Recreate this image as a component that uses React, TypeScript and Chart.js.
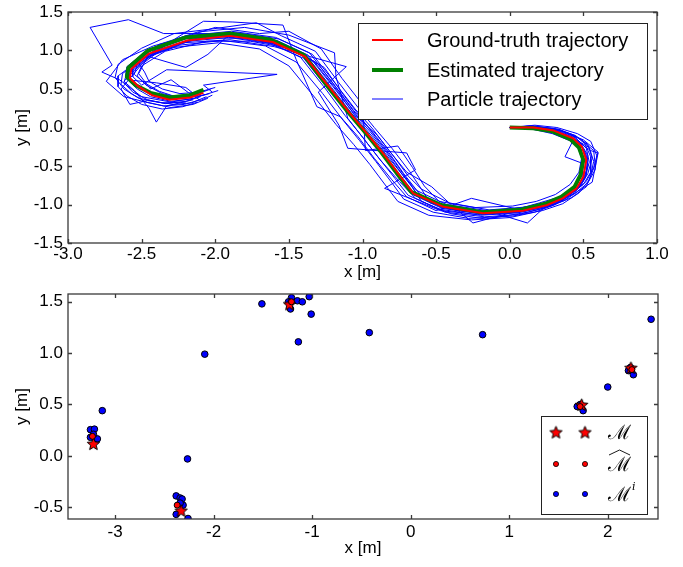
import React, { useEffect, useRef } from 'react';
import { Chart, registerables } from 'chart.js';
Chart.register(...registerables);

const FONT = "'Liberation Sans', Arial, Helvetica, sans-serif";

// ---------- Top chart: trajectories ----------
const topXTicks = [-3.0, -2.5, -2.0, -1.5, -1.0, -0.5, 0.0, 0.5, 1.0];
const topYTicks = [-1.5, -1.0, -0.5, 0.0, 0.5, 1.0, 1.5];

const gtX = [0.00, 0.16, 0.30, 0.43, 0.49, 0.52, 0.50, 0.455, 0.36, 0.25, 0.09, -0.18, -0.45, -0.655, -0.745, -0.86, -0.97, -1.085, -1.22, -1.39, -1.61, -1.90, -2.19, -2.45, -2.57, -2.58, -2.52, -2.43, -2.31, -2.17, -2.08];
const gtY = [0.00, 0.00, -0.04, -0.14, -0.25, -0.42, -0.64, -0.79, -0.92, -1.01, -1.08, -1.115, -1.03, -0.855, -0.63, -0.335, -0.075, 0.184, 0.51, 0.92, 1.11, 1.19, 1.13, 0.96, 0.76, 0.64, 0.53, 0.42, 0.36, 0.39, 0.45];

const estX = [0.00, 0.16, 0.29, 0.41, 0.47, 0.50, 0.48, 0.44, 0.35, 0.24, 0.08, -0.19, -0.46, -0.67, -0.76, -0.875, -0.985, -1.10, -1.235, -1.40, -1.62, -1.90, -2.20, -2.46, -2.59, -2.60, -2.54, -2.44, -2.31, -2.17, -2.08];
const estY = [0.00, -0.01, -0.05, -0.15, -0.26, -0.42, -0.62, -0.77, -0.90, -0.99, -1.065, -1.10, -1.01, -0.835, -0.61, -0.315, -0.055, 0.205, 0.53, 0.945, 1.14, 1.22, 1.17, 0.995, 0.775, 0.655, 0.55, 0.45, 0.39, 0.42, 0.49];

const particle1 = [[0.00, 0.00], [0.15, 0.01], [0.31, -0.03], [0.44, -0.12], [0.52, -0.27], [0.54, -0.45], [0.51, -0.66], [0.44, -0.82], [0.33, -0.95], [0.22, -1.04], [0.05, -1.11], [-0.20, -1.14], [-0.48, -1.06], [-0.69, -0.88], [-0.78, -0.66], [-0.90, -0.37], [-1.01, -0.10], [-1.12, 0.16], [-1.25, 0.50], [-1.42, 0.91], [-1.64, 1.12], [-1.93, 1.22], [-2.35, 1.22], [-2.59, 1.40], [-2.85, 1.30], [-2.70, 0.81], [-2.77, 0.72], [-2.65, 0.62], [-2.50, 0.40], [-2.30, 0.33], [-2.15, 0.38]];
const particle2 = [[0.00, 0.00], [0.17, -0.02], [0.32, -0.07], [0.46, -0.18], [0.55, -0.30], [0.60, -0.33], [0.56, -0.71], [0.47, -0.82], [0.37, -0.95], [0.24, -1.03], [0.12, -1.24], [-0.12, -1.10], [-0.42, -1.05], [-0.62, -0.88], [-0.73, -0.61], [-0.84, -0.32], [-0.95, -0.05], [-1.07, 0.21], [-1.20, 0.53], [-1.37, 0.94], [-1.58, 1.13], [-1.86, 1.21], [-2.16, 1.15], [-2.42, 0.99], [-2.56, 0.79], [-2.56, 0.66], [-2.50, 0.55], [-2.33, 0.75], [-1.58, 0.69], [-2.08, 0.55], [-2.02, 0.46]];
const particle3 = [[0.00, 0.00], [0.14, -0.01], [0.28, -0.06], [0.41, -0.16], [0.47, -0.28], [0.50, -0.44], [0.48, -0.63], [0.43, -0.78], [0.34, -0.90], [0.20, -0.98], [0.05, -1.06], [-0.26, -0.92], [-0.50, -1.08], [-0.70, -0.90], [-0.80, -0.68], [-0.92, -0.40], [-1.03, -0.12], [-1.15, 0.14], [-1.31, 0.27], [-1.45, 0.88], [-1.54, 1.33], [-1.88, 1.37], [-2.08, 1.38], [-2.40, 1.00], [-2.55, 0.74], [-2.62, 0.60], [-2.55, 0.48], [-2.45, 0.25], [-2.40, 0.07], [-2.33, 0.28], [-2.15, 0.36]];
const particle4 = [[0.00, 0.00], [0.18, 0.01], [0.33, -0.02], [0.45, -0.11], [0.53, -0.22], [0.56, -0.40], [0.53, -0.60], [0.48, -0.76], [0.39, -0.89], [0.28, -0.98], [0.12, -1.05], [-0.25, -1.24], [-0.40, -1.00], [-0.53, -0.77], [-0.70, -0.58], [-0.82, -0.30], [-0.93, -0.02], [-1.05, 0.24], [-1.18, 0.56], [-1.34, 0.95], [-1.57, 1.15], [-1.85, 1.23], [-2.14, 1.19], [-2.40, 1.02], [-2.53, 0.82], [-2.55, 0.69], [-2.48, 0.58], [-2.38, 0.47], [-2.27, 0.40], [-2.13, 0.43], [-2.03, 0.50]];
const particle5 = [[0.00, 0.00], [0.13, 0.00], [0.27, -0.05], [0.39, -0.13], [0.46, -0.24], [0.49, -0.41], [0.47, -0.66], [0.42, -0.81], [0.32, -0.93], [0.22, -1.03], [0.06, -1.10], [-0.22, -1.13], [-0.47, -1.08], [-0.85, -0.79], [-0.64, -0.55], [-0.70, -0.33], [-1.10, -0.27], [-1.16, 0.03], [-1.30, 0.46], [-1.11, 0.79], [-1.60, 1.05], [-1.90, 1.14], [-2.22, 1.10], [-2.47, 0.93], [-2.60, 0.72], [-2.62, 0.58], [-2.56, 0.46], [-2.46, 0.36], [-2.34, 0.31], [-2.20, 0.34], [-2.10, 0.40]];
const particle6 = [[0.00, 0.00], [0.16, 0.02], [0.31, -0.02], [0.44, -0.10], [0.51, -0.21], [0.55, -0.38], [0.55, -0.58], [0.50, -0.74], [0.41, -0.87], [0.30, -0.97], [0.14, -1.04], [-0.15, -1.08], [-0.43, -1.00], [-0.63, -0.82], [-0.72, -0.60], [-0.83, -0.30], [-0.94, -0.04], [-1.06, 0.22], [-1.19, 0.55], [-1.36, 0.97], [-1.59, 1.17], [-1.89, 1.25], [-2.20, 1.19], [-2.46, 1.01], [-2.60, 0.79], [-2.61, 0.66], [-2.55, 0.56], [-2.45, 0.45], [-2.32, 0.40], [-2.18, 0.42], [-2.08, 0.48]];
const particle7 = [[0.00, 0.00], [0.15, -0.02], [0.29, -0.08], [0.42, -0.18], [0.50, -0.31], [0.53, -0.49], [0.50, -0.70], [0.44, -0.85], [0.34, -0.97], [0.21, -1.06], [0.06, -1.13], [-0.17, -1.16], [-0.44, -1.10], [-0.64, -0.92], [-0.75, -0.70], [-0.88, -0.42], [-0.99, -0.15], [-1.10, 0.12], [-1.18, 0.66], [-1.19, 0.97], [-1.50, 1.20], [-1.80, 1.30], [-2.12, 1.24], [-2.38, 1.08], [-2.53, 0.86], [-2.48, 0.72], [-2.45, 0.60], [-2.36, 0.50], [-2.24, 0.44], [-2.11, 0.46], [-2.00, 0.52]];
const particle8 = [[0.00, 0.00], [0.17, 0.01], [0.34, -0.03], [0.48, -0.15], [0.57, -0.30], [0.58, -0.48], [0.54, -0.68], [0.47, -0.85], [0.36, -0.99], [0.22, -1.08], [0.02, -1.15], [-0.28, -1.18], [-0.52, -1.10], [-0.72, -0.93], [-0.80, -0.72], [-0.91, -0.44], [-1.02, -0.17], [-1.13, 0.09], [-1.27, 0.44], [-1.45, 0.85], [-1.66, 1.06], [-1.95, 1.13], [-2.24, 1.07], [-2.49, 0.90], [-2.63, 0.70], [-2.64, 0.56], [-2.57, 0.44], [-2.47, 0.33], [-2.35, 0.28], [-2.21, 0.30], [-2.10, 0.36]];
const particle9 = [[0.00, 0.00], [0.14, 0.02], [0.29, -0.03], [0.44, -0.13], [0.375, -0.38], [0.50, -0.47], [0.49, -0.67], [0.45, -0.80], [0.37, -0.93], [0.26, -1.02], [0.10, -1.09], [-0.17, -1.13], [-0.46, -1.05], [-0.66, -0.87], [-0.76, -0.64], [-0.86, -0.36], [-0.98, -0.08], [-1.09, 0.18], [-1.23, 0.49], [-1.40, 0.90], [-1.63, 1.09], [-1.91, 1.17], [-2.18, 1.12], [-2.44, 0.94], [-2.58, 0.71], [-2.59, 0.61], [-2.53, 0.50], [-2.44, 0.40], [-2.30, 0.34], [-2.16, 0.37], [-2.07, 0.43]];
const particle10 = [[0.00, 0.00], [0.19, -0.03], [0.35, -0.09], [0.47, -0.20], [0.52, -0.35], [0.51, -0.55], [0.46, -0.72], [0.39, -0.84], [0.29, -0.96], [0.15, -1.02], [-0.02, -1.07], [-0.30, -1.09], [-0.54, -0.98], [-0.60, -0.80], [-0.69, -0.63], [-0.79, -0.37], [-0.90, -0.10], [-1.03, 0.13], [-1.14, 0.42], [-1.30, 0.82], [-1.52, 1.05], [-1.80, 1.16], [-2.10, 1.16], [-2.36, 1.02], [-2.50, 0.82], [-2.64, 0.50], [-2.58, 0.30], [-2.46, 0.35], [-2.28, 0.30], [-2.16, 0.32], [-2.06, 0.40]];
const particle11 = [[0.00, 0.00], [0.14, 0.00], [0.30, -0.05], [0.42, -0.15], [0.50, -0.27], [0.53, -0.43], [0.52, -0.62], [0.46, -0.80], [0.35, -0.94], [0.23, -1.02], [0.07, -1.09], [-0.20, -1.12], [-0.46, -1.04], [-0.66, -0.86], [-0.74, -0.64], [-0.87, -0.34], [-0.96, -0.09], [-1.08, 0.20], [-1.21, 0.52], [-1.38, 0.93], [-1.62, 1.10], [-1.92, 1.18], [-2.05, 0.95], [-2.20, 0.78], [-2.45, 0.92], [-2.58, 0.74], [-2.60, 0.62], [-2.40, 0.58], [-2.20, 0.52], [-2.12, 0.40], [-2.04, 0.44]];
const particle12 = [[0.00, 0.00], [0.15, 0.02], [0.29, -0.01], [0.42, -0.09], [0.48, -0.20], [0.53, -0.36], [0.52, -0.56], [0.49, -0.72], [0.40, -0.86], [0.29, -0.96], [0.13, -1.03], [-0.14, -1.07], [-0.41, -0.98], [-0.60, -0.80], [-0.68, -0.57], [-0.80, -0.27], [-0.92, 0.00], [-1.03, 0.26], [-1.16, 0.58], [-1.32, 0.99], [-1.55, 1.19], [-1.72, 1.36], [-2.02, 1.28], [-2.28, 1.22], [-2.50, 1.03], [-2.66, 0.82], [-2.68, 0.65], [-2.62, 0.50], [-2.52, 0.38], [-2.36, 0.32], [-2.20, 0.33]];
const particle13 = [[0.00, 0.00], [0.16, -0.01], [0.31, -0.06], [0.45, -0.16], [0.54, -0.26], [0.57, -0.44], [0.55, -0.62], [0.52, -0.77], [0.42, -0.91], [0.28, -1.02], [0.12, -1.10], [-0.16, -1.19], [-0.40, -1.12], [-0.60, -0.96], [-0.68, -0.72], [-0.78, -0.45], [-0.88, -0.20], [-0.98, 0.05], [-1.12, 0.40], [-1.26, 0.78], [-1.47, 1.02], [-1.76, 1.12], [-2.06, 1.12], [-2.34, 0.99], [-2.50, 0.80], [-2.53, 0.67], [-2.47, 0.55], [-2.36, 0.44], [-2.22, 0.38], [-2.08, 0.42], [-1.98, 0.48]];
const particle14 = [[0.00, 0.00], [0.18, -0.01], [0.36, -0.05], [0.50, -0.16], [0.60, -0.32], [0.57, -0.52], [0.52, -0.70], [0.42, -0.86], [0.31, -1.00], [0.17, -1.10], [0.00, -1.17], [-0.26, -1.20], [-0.55, -1.14], [-0.76, -0.96], [-0.84, -0.76], [-0.95, -0.48], [-1.06, -0.22], [-1.18, 0.04], [-1.32, 0.38], [-1.50, 0.80], [-1.70, 1.02], [-1.98, 1.10], [-2.28, 1.04], [-2.52, 0.87], [-2.66, 0.67], [-2.66, 0.53], [-2.60, 0.41], [-2.50, 0.30], [-2.36, 0.24], [-2.22, 0.27], [-2.12, 0.33]];
const particle15 = [[0.00, 0.00], [0.13, 0.01], [0.28, -0.02], [0.40, -0.11], [0.46, -0.21], [0.49, -0.38], [0.47, -0.58], [0.41, -0.74], [0.31, -0.87], [0.18, -0.96], [0.02, -1.02], [-0.24, -1.04], [-0.48, -0.96], [-0.58, -0.76], [-0.66, -0.52], [-0.76, -0.24], [-0.98, -0.30], [-1.00, 0.30], [-1.14, 0.64], [-1.28, 1.02], [-1.50, 1.25], [-1.70, 1.22], [-2.00, 1.30], [-2.30, 1.12], [-2.47, 0.88], [-2.52, 0.70], [-2.44, 0.50], [-2.30, 0.62], [-2.18, 0.45], [-2.10, 0.35], [-2.02, 0.42]];
const particle16 = [[0.00, 0.00], [0.17, 0.03], [0.32, 0.00], [0.46, -0.08], [0.55, -0.18], [0.59, -0.36], [0.58, -0.55], [0.53, -0.72], [0.44, -0.86], [0.33, -0.95], [0.18, -1.03], [-0.08, -1.12], [-0.36, -1.08], [-0.58, -0.92], [-0.70, -0.68], [-0.82, -0.40], [-0.92, -0.15], [-1.04, 0.12], [-1.16, 0.45], [-1.33, 0.86], [-1.56, 1.08], [-1.84, 1.18], [-2.14, 1.20], [-2.42, 1.06], [-2.63, 0.88], [-2.74, 0.60], [-2.62, 0.40], [-2.45, 0.32], [-2.30, 0.26], [-2.15, 0.30], [-2.05, 0.38]];
const particles = [particle1, particle2, particle3, particle4, particle5, particle6, particle7, particle8, particle9, particle10, particle11, particle12, particle13, particle14, particle15, particle16];

const topLegendLabels = ['Ground-truth trajectory', 'Estimated trajectory', 'Particle trajectory'];

// ---------- Bottom chart: landmarks ----------
const botXTicks = [-3, -2, -1, 0, 1, 2];
const botYTicks = [-0.5, 0.0, 0.5, 1.0, 1.5];

const starX = [-3.22, -2.33, -1.23, 1.735, 2.235];
const starY = [0.12, -0.53, 1.48, 0.50, 0.86];

const estLmX = [-3.23, -2.37, -1.21, 1.72, 2.245];
const estLmY = [0.19, -0.48, 1.50, 0.48, 0.84];

const partLmX = [-3.13, -3.25, -3.21, -3.25, -3.18, -3.22, -2.265, -2.38, -2.34, -2.32, -2.31, -2.38, -2.26, -2.34, -2.09, -1.51, -1.21, -1.15, -1.10, -1.03, -1.22, -1.01, -1.14, -1.24, -0.42, 0.73, 2.44, 2.00, 2.26, 2.21, 2.23, 1.69, 1.75, 1.72];
const partLmY = [0.44, 0.255, 0.26, 0.18, 0.165, 0.21, -0.03, -0.39, -0.41, -0.42, -0.48, -0.57, -0.61, -0.46, 0.99, 1.48, 1.54, 1.51, 1.50, 1.55, 1.43, 1.38, 1.11, 1.50, 1.20, 1.18, 1.33, 0.67, 0.79, 0.83, 0.86, 0.48, 0.44, 0.50];

// ---------- helpers ----------
function starPath(ctx: CanvasRenderingContext2D, cx: number, cy: number, ro: number, ri: number) {
  ctx.beginPath();
  for (let i = 0; i < 10; i++) {
    const r = i % 2 === 0 ? ro : ri;
    const a = -Math.PI / 2 + (i * Math.PI) / 5;
    const px = cx + r * Math.cos(a);
    const py = cy + r * Math.sin(a);
    if (i === 0) ctx.moveTo(px, py); else ctx.lineTo(px, py);
  }
  ctx.closePath();
}

function makeStar(ro: number): HTMLCanvasElement {
  const size = Math.ceil(ro * 2 + 4);
  const c = document.createElement('canvas');
  c.width = size; c.height = size;
  const g = c.getContext('2d')!;
  starPath(g, size / 2, size / 2 + 0.8, ro, ro * 0.45);
  g.fillStyle = '#ff0000'; g.fill();
  g.strokeStyle = '#000'; g.lineWidth = 1; g.stroke();
  return c;
}

function framePlugin(xTicks: number[], yTicks: number[]) {
  return {
    id: 'frameTicks',
    afterDraw(chart: any) {
      const { ctx, chartArea: a, scales } = chart;
      ctx.save();
      ctx.strokeStyle = '#3a3a3a';
      ctx.lineWidth = 1.3;
      ctx.strokeRect(a.left, a.top, a.right - a.left, a.bottom - a.top);
      const tl = 4;
      ctx.beginPath();
      for (const v of xTicks) {
        const px = Math.round(scales.x.getPixelForValue(v)) + 0.5;
        ctx.moveTo(px, a.bottom); ctx.lineTo(px, a.bottom - tl);
        ctx.moveTo(px, a.top); ctx.lineTo(px, a.top + tl);
      }
      for (const v of yTicks) {
        const py = Math.round(scales.y.getPixelForValue(v)) + 0.5;
        ctx.moveTo(a.left, py); ctx.lineTo(a.left + tl, py);
        ctx.moveTo(a.right, py); ctx.lineTo(a.right - tl, py);
      }
      ctx.stroke();
      ctx.restore();
    },
  };
}

const topLegendPlugin = {
  id: 'topLegend',
  afterDraw(chart: any) {
    const { ctx, chartArea: a } = chart;
    const w = 289, h = 96;
    const x0 = a.right - 10 - w;
    const y0 = a.top + 11;
    ctx.save();
    ctx.fillStyle = '#fff';
    ctx.fillRect(x0, y0, w, h);
    ctx.strokeStyle = '#222';
    ctx.lineWidth = 1;
    ctx.strokeRect(x0 + 0.5, y0 + 0.5, w, h);
    const colors = ['#ff0000', '#008000', '#0000ff'];
    const widths = [2, 4, 1];
    const rows = [17, 47, 76];
    ctx.font = `20px ${FONT}`;
    ctx.textBaseline = 'middle';
    ctx.fillStyle = '#000';
    for (let i = 0; i < 3; i++) {
      const y = y0 + rows[i];
      ctx.strokeStyle = colors[i];
      ctx.lineWidth = widths[i];
      ctx.beginPath();
      ctx.moveTo(x0 + 14, y); ctx.lineTo(x0 + 45, y);
      ctx.stroke();
      ctx.fillStyle = '#000';
      ctx.fillText(topLegendLabels[i], x0 + 69, y + 1);
    }
    ctx.restore();
  },
};

function botLegendPlugin(star: HTMLCanvasElement) {
  return {
    id: 'botLegend',
    afterDraw(chart: any) {
      const { ctx, chartArea: a } = chart;
      const w = 106, h = 98;
      const x0 = a.right - 11 - w;
      const y0 = a.top + 122;
      ctx.save();
      ctx.fillStyle = '#fff';
      ctx.fillRect(x0, y0, w, h);
      ctx.strokeStyle = '#222';
      ctx.lineWidth = 1;
      ctx.strokeRect(x0 + 0.5, y0 + 0.5, w, h);
      const rows = [16, 48, 78];
      const mx = [15, 44];
      for (const m of mx) ctx.drawImage(star, x0 + m - star.width / 2, y0 + rows[0] - star.height / 2);
      const dot = (cx: number, cy: number, fill: string) => {
        ctx.beginPath();
        ctx.arc(cx, cy, 2.6, 0, Math.PI * 2);
        ctx.fillStyle = fill; ctx.fill();
        ctx.strokeStyle = '#000'; ctx.lineWidth = 0.8; ctx.stroke();
      };
      for (const m of mx) dot(x0 + m, y0 + rows[1], '#ff0000');
      for (const m of mx) dot(x0 + m, y0 + rows[2], '#0000ff');
      ctx.fillStyle = '#000';
      ctx.font = `20px 'DejaVu Serif', serif`;
      ctx.textBaseline = 'alphabetic';
      const tx = x0 + 67;
      ctx.fillText('ℳ', tx, y0 + rows[0] + 7);
      ctx.fillText('ℳ', tx, y0 + rows[1] + 7);
      ctx.fillText('ℳ', tx, y0 + rows[2] + 7);
      const mw = ctx.measureText('ℳ').width;
      ctx.strokeStyle = '#000';
      ctx.lineWidth = 0.9;
      ctx.beginPath();
      ctx.moveTo(tx + 1, y0 + rows[1] - 9);
      ctx.lineTo(tx + mw / 2, y0 + rows[1] - 14);
      ctx.lineTo(tx + mw - 1, y0 + rows[1] - 9);
      ctx.stroke();
      ctx.font = `italic 11px 'DejaVu Serif', serif`;
      ctx.fillText('i', tx + mw + 1, y0 + rows[2] - 4);
      ctx.restore();
    },
  };
}

const tickFont = { family: FONT, size: 17 };

const fitY = (w: number) => (s: any) => { s.width = w; s.paddingTop = 0; s.paddingBottom = 0; };
const fitX = (h: number) => (s: any) => { s.height = h; s.paddingLeft = 0; s.paddingRight = 0; };

export default function App() {
  const topRef = useRef<HTMLCanvasElement>(null);
  const botRef = useRef<HTMLCanvasElement>(null);

  useEffect(() => {
    const star = makeStar(6.5);
    const starLegend = makeStar(6.5);

    const topDatasets: any[] = particles.map((p) => ({
      data: p.map(([x, y]) => ({ x, y })),
      showLine: true,
      borderColor: '#0000ff',
      borderWidth: 1,
      pointRadius: 0,
      tension: 0,
      order: 3,
    }));
    topDatasets.push({
      data: estX.map((x, i) => ({ x, y: estY[i] })),
      showLine: true,
      borderColor: '#008000',
      borderWidth: 4,
      pointRadius: 0,
      tension: 0,
      borderJoinStyle: 'round',
      order: 2,
    });
    topDatasets.push({
      data: gtX.map((x, i) => ({ x, y: gtY[i] })),
      showLine: true,
      borderColor: '#ff0000',
      borderWidth: 2,
      pointRadius: 0,
      tension: 0,
      borderJoinStyle: 'round',
      order: 1,
    });

    const top = new Chart(topRef.current!, {
      type: 'scatter',
      data: { datasets: topDatasets },
      options: {
        animation: false,
        responsive: false,
        maintainAspectRatio: false,
        events: [],
        layout: { padding: { left: 0, top: 12, right: 26, bottom: 0 } },
        plugins: { legend: { display: false }, tooltip: { enabled: false } },
        scales: {
          x: {
            type: 'linear',
            min: -3,
            max: 1,
            afterBuildTicks: (s: any) => { s.ticks = topXTicks.map((v) => ({ value: v })); },
            afterFit: fitX(43),
            grid: { display: false, drawTicks: false },
            border: { display: false },
            ticks: { padding: 1, color: '#000', font: tickFont, maxRotation: 0, autoSkip: false, callback: (v: any) => Number(v).toFixed(1) },
            title: { display: true, text: 'x [m]', color: '#000', font: tickFont, padding: { top: 0, bottom: 3 } },
          },
          y: {
            type: 'linear',
            min: -1.5,
            max: 1.5,
            afterBuildTicks: (s: any) => { s.ticks = topYTicks.map((v) => ({ value: v })); },
            afterFit: fitY(68),
            grid: { display: false, drawTicks: false },
            border: { display: false },
            ticks: { padding: 5, color: '#000', font: tickFont, autoSkip: false, callback: (v: any) => Number(v).toFixed(1) },
            title: { display: true, text: 'y [m]', color: '#000', font: tickFont, padding: { top: 12, bottom: 0 } },
          },
        },
      } as any,
      plugins: [framePlugin(topXTicks, topYTicks), topLegendPlugin],
    });

    const bot = new Chart(botRef.current!, {
      type: 'scatter',
      data: {
        datasets: [
          {
            data: partLmX.map((x, i) => ({ x, y: partLmY[i] })),
            pointRadius: 3.3,
            pointStyle: 'circle',
            backgroundColor: '#0000ff',
            borderColor: '#000',
            borderWidth: 1,
            clip: 0,
            order: 3,
          },
          {
            data: starX.map((x, i) => ({ x, y: starY[i] })),
            pointStyle: star,
            pointRadius: 7,
            clip: 0,
            order: 2,
          },
          {
            data: estLmX.map((x, i) => ({ x, y: estLmY[i] })),
            pointRadius: 3,
            pointStyle: 'circle',
            backgroundColor: '#ff0000',
            borderColor: '#000',
            borderWidth: 1,
            clip: 0,
            order: 1,
          },
        ] as any,
      },
      options: {
        animation: false,
        responsive: false,
        maintainAspectRatio: false,
        events: [],
        layout: { padding: { left: 0, top: 1, right: 25, bottom: 0 } },
        plugins: { legend: { display: false }, tooltip: { enabled: false } },
        scales: {
          x: {
            type: 'linear',
            min: -3.478,
            max: 2.51,
            afterBuildTicks: (s: any) => { s.ticks = botXTicks.map((v) => ({ value: v })); },
            afterFit: fitX(48),
            grid: { display: false, drawTicks: false },
            border: { display: false },
            ticks: { padding: 3, color: '#000', font: tickFont, maxRotation: 0, autoSkip: false, callback: (v: any) => Number(v).toFixed(0) },
            title: { display: true, text: 'x [m]', color: '#000', font: tickFont, padding: { top: 0, bottom: 8 } },
          },
          y: {
            type: 'linear',
            min: -0.615,
            max: 1.576,
            afterBuildTicks: (s: any) => { s.ticks = botYTicks.map((v) => ({ value: v })); },
            afterFit: fitY(68),
            grid: { display: false, drawTicks: false },
            border: { display: false },
            ticks: { padding: 5, color: '#000', font: tickFont, autoSkip: false, callback: (v: any) => Number(v).toFixed(1) },
            title: { display: true, text: 'y [m]', color: '#000', font: tickFont, padding: { top: 12, bottom: 0 } },
          },
        },
      } as any,
      plugins: [framePlugin(botXTicks, botYTicks), botLegendPlugin(starLegend)],
    });

    return () => {
      top.destroy();
      bot.destroy();
    };
  }, []);

  return (
    <div style={{ position: 'absolute', left: 0, top: 0, width: 683, height: 567, background: '#fff' }}>
      <canvas ref={topRef} width={683} height={286} style={{ display: 'block', width: 683, height: 286 }} />
      <canvas ref={botRef} width={683} height={281} style={{ display: 'block', width: 683, height: 281 }} />
    </div>
  );
}
